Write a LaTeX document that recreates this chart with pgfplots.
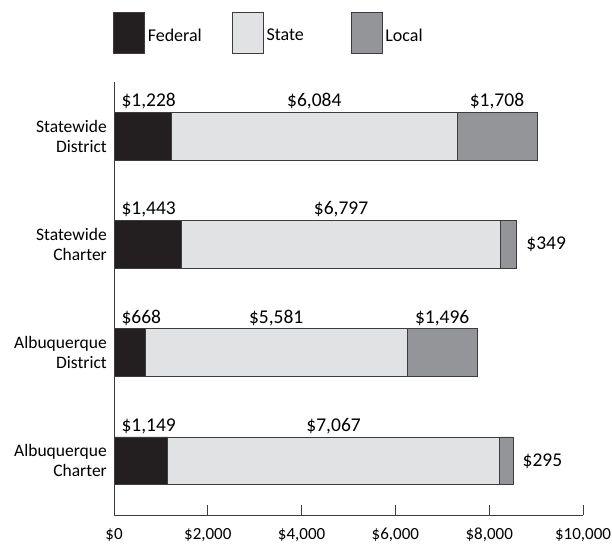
\documentclass[border=0pt]{standalone}
\usepackage{pgfplots}
\pgfplotsset{compat=1.18}
\usepackage{fontspec}
\setmainfont{Carlito}
\definecolor{fed}{HTML}{231F20}
\definecolor{sta}{HTML}{E1E2E3}
\definecolor{loc}{HTML}{939598}
\definecolor{edge}{HTML}{3C3C3C}
\pgfplotsset{myleg/.style={legend image code/.code={\draw[##1, line width=0.8pt, draw=edge] (0pt,-18pt) rectangle (31pt,23pt);}}}
\tikzset{lbl/.style={font=\fontsize{19.5}{21}\selectfont}}
\begin{document}
\begin{tikzpicture}[font=\fontsize{18}{20}\selectfont]
\path[use as bounding box] (0,0) rectangle (612pt,544pt);
\begin{axis}[
  at={(114pt,29pt)}, anchor=south west,
  scale only axis, width=469pt, height=433pt,
  xbar stacked, bar width=0.443,
  xmin=0, xmax=10000, ymin=-0.5, ymax=3.5,
  scaled x ticks=false,
  axis x line*=bottom, axis y line*=left,
  axis line style={edge, line width=0.8pt, -},
  xtick={0,2000,4000,6000,8000,10000},
  xticklabels={\$0,{\$2,000},{\$4,000},{\$6,000},{\$8,000},{\$10,000}},
  xticklabel style={font=\fontsize{17}{19}\selectfont, inner sep=0pt, anchor=base, yshift=-24pt},
  xtick pos=bottom, xtick align=inside, major tick length=10pt,
  xtick style={draw=edge, line width=0.9pt},
  ytick={0,1,2,3}, ytick pos=left,
  yticklabels={{Albuquerque\\Charter},{Albuquerque\\District},{Statewide\\Charter},{Statewide\\District}},
  yticklabel style={align=right, inner sep=0pt, xshift=-7pt, font=\fontsize{17.5}{20}\selectfont},
  ytick style={draw=none},
  legend style={at={(axis description cs:0,1)}, anchor=south west, xshift=-1pt, yshift=28pt,
    draw=none, fill=none, inner sep=0pt, outer sep=0pt, legend columns=3,
    nodes={inner sep=0pt, text width=84pt, align=left, font=\fontsize{18}{20}\selectfont},
    /tikz/every odd column/.append style={column sep=3pt}},
  legend cell align=left,
]
\addplot[fill=fed, draw=edge, line width=0.8pt, myleg] coordinates {(1149,0) (668,1) (1443,2) (1228,3)};
\addplot[fill=sta, draw=edge, line width=0.8pt, myleg] coordinates {(7067,0) (5581,1) (6797,2) (6084,3)};
\addplot[fill=loc, draw=edge, line width=0.8pt, myleg] coordinates {(295,0) (1496,1) (349,2) (1708,3)};
\legend{Federal,State,Local}
% value labels
\node[lbl, anchor=base west, xshift=4pt, yshift=5.5pt] at (axis cs:0,3.2215) {\$1,228};
\node[lbl, anchor=base, yshift=5.5pt] at (axis cs:4270,3.2215) {\$6,084};
\node[lbl, anchor=base, yshift=5.5pt] at (axis cs:8166,3.2215) {\$1,708};
\node[lbl, anchor=base west, xshift=4pt, yshift=5.5pt] at (axis cs:0,2.2215) {\$1,443};
\node[lbl, anchor=base, yshift=5.5pt] at (axis cs:4841.5,2.2215) {\$6,797};
\node[lbl, anchor=west, xshift=6pt] at (axis cs:8589,2) {\$349};
\node[lbl, anchor=base west, xshift=4pt, yshift=5.5pt] at (axis cs:0,1.2215) {\$668};
\node[lbl, anchor=base, yshift=5.5pt] at (axis cs:3458.5,1.2215) {\$5,581};
\node[lbl, anchor=base, yshift=5.5pt] at (axis cs:6997,1.2215) {\$1,496};
\node[lbl, anchor=base west, xshift=4pt, yshift=5.5pt] at (axis cs:0,0.2215) {\$1,149};
\node[lbl, anchor=base, yshift=5.5pt] at (axis cs:4682.5,0.2215) {\$7,067};
\node[lbl, anchor=west, xshift=6pt] at (axis cs:8511,0) {\$295};
\end{axis}
\end{tikzpicture}
\end{document}
